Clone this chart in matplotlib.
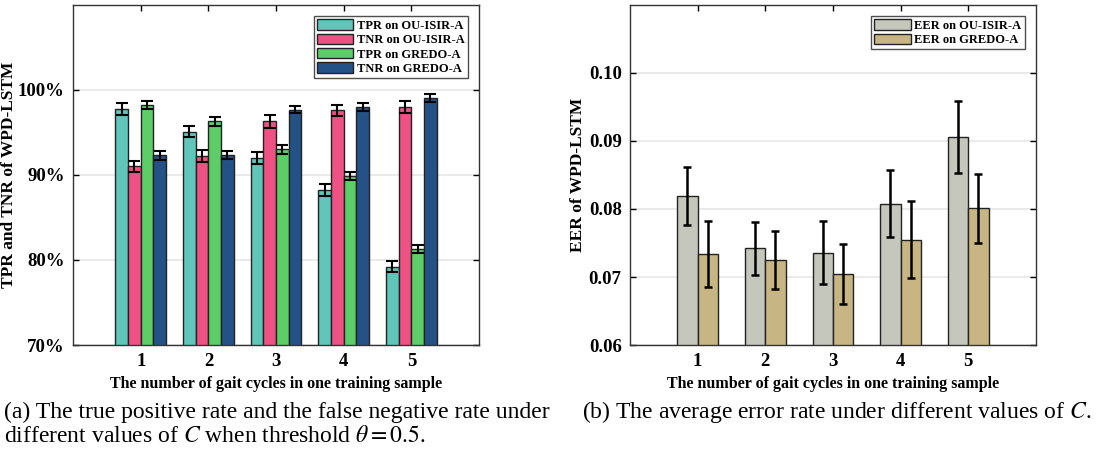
import numpy as np
import matplotlib
matplotlib.use('Agg')
import matplotlib.pyplot as plt

plt.rcParams['font.family'] = ['Liberation Serif', 'DejaVu Serif']
plt.rcParams['mathtext.fontset'] = 'stix'

# ---- data ----
cycles = [1, 2, 3, 4, 5]

rate_names = ['TPR on OU-ISIR-A', 'TNR on OU-ISIR-A', 'TPR on GREDO-A', 'TNR on GREDO-A']
tpr_ou    = [97.8, 95.1, 92.0, 88.2, 79.2]
tnr_ou    = [91.0, 92.2, 96.3, 97.6, 98.0]
tpr_gredo = [98.2, 96.3, 93.0, 89.9, 81.3]
tnr_gredo = [92.3, 92.3, 97.7, 98.0, 99.0]
tpr_ou_err    = [0.69, 0.67, 0.69, 0.70, 0.65]
tnr_ou_err    = [0.69, 0.69, 0.73, 0.69, 0.69]
tpr_gredo_err = [0.47, 0.49, 0.49, 0.47, 0.47]
tnr_gredo_err = [0.55, 0.47, 0.45, 0.47, 0.47]

eer_names = ['EER on OU-ISIR-A', 'EER on GREDO-A']
eer_ou    = [0.0819, 0.0742, 0.0736, 0.0808, 0.0906]
eer_gredo = [0.0734, 0.0725, 0.0704, 0.0755, 0.0801]
eer_ou_err    = [0.0043, 0.0039, 0.0047, 0.0049, 0.0053]
eer_gredo_err = [0.0048, 0.0042, 0.0044, 0.0057, 0.0051]

rate_colors = ['#5fc6b9', '#ee5183', '#5dcd68', '#255286']
eer_colors = ['#c5c6bc', '#c7b683']

fig = plt.figure(figsize=(11, 4.53), dpi=100)
ax1 = fig.add_axes([0.0664, 0.2384, 0.3691, 0.7506])
ax2 = fig.add_axes([0.5727, 0.2384, 0.3691, 0.7506])

x = np.array(cycles, dtype=float)

def style_axes(ax):
    ax.set_xlim(0, 6)
    ax.set_xticks(cycles)
    ax.tick_params(direction='in', top=True, right=True, length=4, width=1,
                   labelsize=13.5, pad=6)
    for lab in ax.get_xticklabels() + ax.get_yticklabels():
        lab.set_fontweight('bold')
    for s in ax.spines.values():
        s.set_linewidth(1.0)
        s.set_color('#333333')
    ax.grid(axis='y', color='#e6e6e6', linewidth=1.2)
    ax.set_axisbelow(True)
    ax.set_xlabel('The number of gait cycles in one training sample',
                  fontsize=11.5, fontweight='bold', labelpad=4)

def make_legend(ax):
    leg = ax.legend(loc='upper right', prop={'weight': 'bold', 'size': 9},
                    frameon=True, fancybox=False, edgecolor='#222222',
                    handlelength=2.9, handleheight=0.9, handletextpad=0.3,
                    borderpad=0.25, labelspacing=0.15, borderaxespad=0.9)
    leg.get_frame().set_linewidth(1.0)
    return leg

# ---- left panel ----
rates = [tpr_ou, tnr_ou, tpr_gredo, tnr_gredo]
rate_errs = [tpr_ou_err, tnr_ou_err, tpr_gredo_err, tnr_gredo_err]
w1 = 0.188
for i, (vals, errs) in enumerate(zip(rates, rate_errs)):
    pos = x + (i - 1.5) * w1
    ax1.bar(pos, vals, width=w1, color=rate_colors[i], edgecolor='#222222',
            linewidth=1.0, label=rate_names[i], zorder=2)
    ax1.errorbar(pos, vals, yerr=errs, fmt='none', ecolor='black',
                 elinewidth=1.5, capsize=4, capthick=1.5, zorder=3)
ax1.set_ylim(70, 110)
ax1.set_yticks([70, 80, 90, 100])
ax1.set_yticklabels(['70%', '80%', '90%', '100%'])
style_axes(ax1)
ax1.set_ylabel('TPR and TNR of WPD-LSTM', fontsize=12.5, fontweight='bold')
ax1.yaxis.set_label_coords(-0.137, 0.5)
make_legend(ax1)

# ---- right panel ----
eers = [eer_ou, eer_gredo]
eer_errs = [eer_ou_err, eer_gredo_err]
w2 = 0.3
for i, (vals, errs) in enumerate(zip(eers, eer_errs)):
    pos = x + (i - 0.5) * w2
    ax2.bar(pos, vals, width=w2, color=eer_colors[i], edgecolor='#222222',
            linewidth=1.0, label=eer_names[i], zorder=2)
    ax2.errorbar(pos, vals, yerr=errs, fmt='none', ecolor='black',
                 elinewidth=1.8, capsize=3, capthick=1.8, zorder=3)
ax2.set_ylim(0.06, 0.11)
ax2.set_yticks([0.06, 0.07, 0.08, 0.09, 0.10])
ax2.set_yticklabels(['0.06', '0.07', '0.08', '0.09', '0.10'])
style_axes(ax2)
ax2.set_ylabel('EER of WPD-LSTM', fontsize=12.5, fontweight='bold')
ax2.yaxis.set_label_coords(-0.108, 0.5)
make_legend(ax2)

# ---- captions ----
fig.text(0.004, 0.063, '(a) The true positive rate and the false negative rate under\n'
         'different values of $C$ when threshold $\\theta = 0.5$.',
         fontsize=17, ha='left', va='center', linespacing=1.15)
fig.text(0.529, 0.09, '(b) The average error rate under different values of $C$.',
         fontsize=17, ha='left', va='center')

fig.savefig('out.png', dpi=100)
